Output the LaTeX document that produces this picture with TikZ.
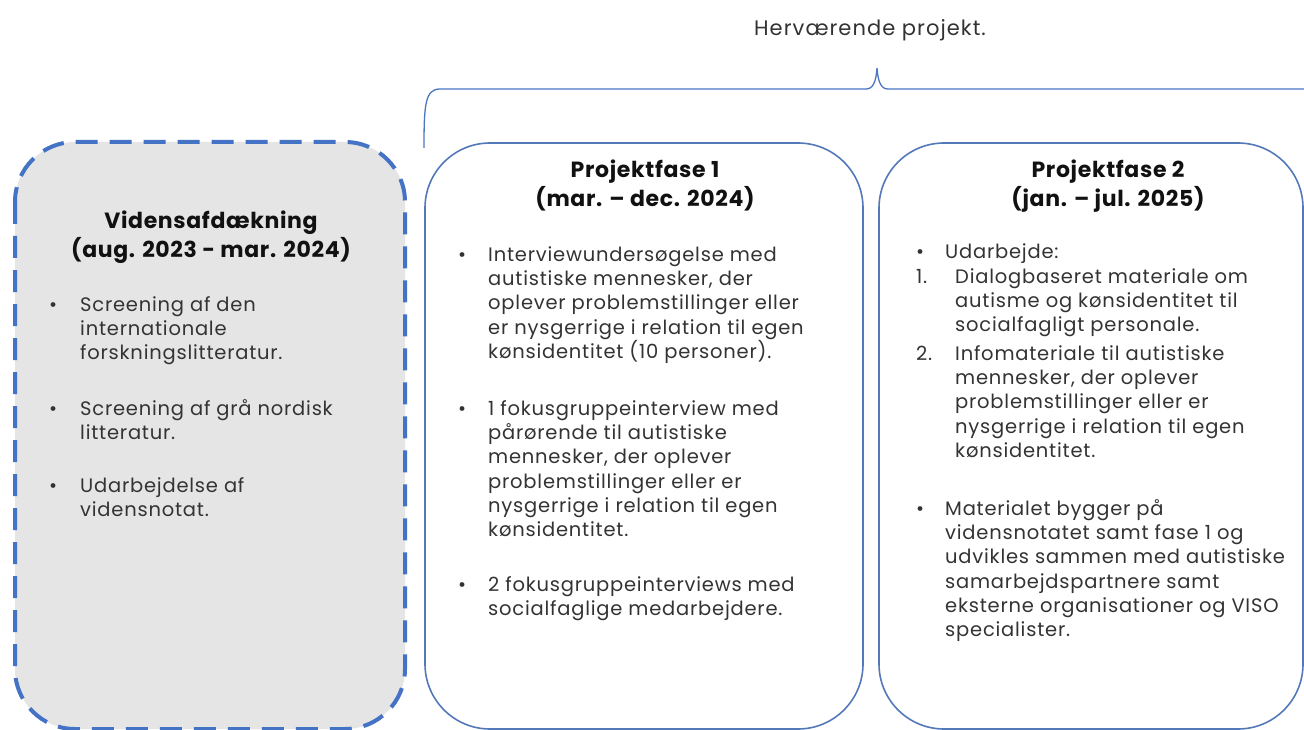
\documentclass[tikz,border=0pt]{standalone}
\usepackage{fontspec}
\setmainfont{Poppins}
\newfontfamily\bodyfam[LetterSpace=4]{Poppins}
\newfontfamily\titlefam[LetterSpace=3]{Poppins}
\newfontfamily\headfam[LetterSpace=5]{Poppins}
\definecolor{dashblue}{HTML}{4472C4}
\definecolor{boxblue}{HTML}{5479B8}
\definecolor{bracecol}{HTML}{4A76C2}
\definecolor{boxgray}{HTML}{E5E5E5}
\definecolor{bodytext}{HTML}{333333}
\definecolor{titletext}{HTML}{111111}
\begin{document}
\begin{tikzpicture}[x=1pt,y=-1pt,
  bodyfont/.style={font=\bodyfam\fontsize{19.5}{24.3}\selectfont, text=bodytext, inner sep=0pt, anchor=north west, align=left},
  bulletfont/.style={font=\bodyfam\fontsize{19.5}{24.3}\selectfont, text=bodytext, inner sep=0pt, anchor=north west},
  titlefont/.style={font=\titlefam\fontsize{22}{26}\selectfont\bfseries, text=titletext, inner sep=0pt, anchor=north, align=center},
  phasebox/.style={draw=boxblue, line width=1.6pt, rounded corners=65pt},
  knowbox/.style={draw=dashblue, fill=boxgray, line width=4pt, dash pattern=on 22pt off 12pt, rounded corners=60pt},
  bracestyle/.style={draw=bracecol, line width=1.3pt}
]
\useasboundingbox (0,0) rectangle (1304,730);
\clip (0,0) rectangle (1304,730);
\fill[white] (0,0) rectangle (1304,730);

% title
\node[font=\headfam\fontsize{21}{24}\selectfont, text=bodytext, inner sep=0pt] (proj) at (870,30) {Herværende projekt.};

% brace
\coordinate (bl) at (424,148);
\coordinate (bt) at (877,68);
\coordinate (br) at (1310,89);
\draw[bracestyle] (bl) .. controls (424,105) and (425,89) .. (440,89) -- (866,89)
  .. controls (873,89) and (876,82) .. (bt) .. controls (878,82) and (881,89) .. (888,89) -- (br);

% boxes
\draw[knowbox] (15,142) rectangle (405,729);
\draw[phasebox] (425,143) rectangle (863,729);
\draw[phasebox] (879,143) rectangle (1303,729);

% left box
\node[titlefont] (t0) at (211,210) {\strut Vidensafdækning\\(aug. 2023 - mar. 2024)};
\node[bulletfont] (b01) at (49,294) {\strut •};
\node[bodyfont] (l01) at (80,294) {\strut Screening af den\\internationale\\forskningslitteratur.};
\node[bulletfont] (b02) at (49,398) {\strut •};
\node[bodyfont] (l02) at (80,398) {\strut Screening af grå nordisk\\litteratur.};
\node[bulletfont] (b03) at (49,475) {\strut •};
\node[bodyfont] (l03) at (80,475) {\strut Udarbejdelse af\\vidensnotat.};

% box 2
\node[titlefont] (t1) at (645,159) {\strut Projektfase 1\\(mar. – dec. 2024)};
\node[bulletfont] (b11) at (458,244) {\strut •};
\node[bodyfont] (l11) at (488,244) {\strut Interviewundersøgelse med\\autistiske mennesker, der\\oplever problemstillinger eller\\er nysgerrige i relation til egen\\kønsidentitet (10 personer).};
\node[bulletfont] (b12) at (458,398) {\strut •};
\node[bodyfont] (l12) at (488,398) {\strut 1 fokusgruppeinterview med\\pårørende til autistiske\\mennesker, der oplever\\problemstillinger eller er\\nysgerrige i relation til egen\\kønsidentitet.};
\node[bulletfont] (b13) at (458,574) {\strut •};
\node[bodyfont] (l13) at (488,574) {\strut 2 fokusgruppeinterviews med\\socialfaglige medarbejdere.};

% box 3
\node[titlefont] (t2) at (1108,159) {\strut Projektfase 2\\(jan. – jul. 2025)};
\node[bulletfont] (b21) at (916,241) {\strut •};
\node[bodyfont] (l21) at (945,241) {\strut Udarbejde:};
\node[bulletfont] (n21) at (916,266) {\strut 1.};
\node[bodyfont] (l22) at (955,266) {\strut Dialogbaseret materiale om\\autisme og kønsidentitet til\\socialfagligt personale.};
\node[bulletfont] (n22) at (916,343) {\strut 2.};
\node[bodyfont] (l23) at (955,343) {\strut Infomateriale til autistiske\\mennesker, der oplever\\problemstillinger eller er\\nysgerrige i relation til egen\\kønsidentitet.};
\node[bulletfont] (b22) at (916,498) {\strut •};
\node[bodyfont] (l24) at (945,498) {\strut Materialet bygger på\\vidensnotatet samt fase 1 og\\udvikles sammen med autistiske\\samarbejdspartnere samt\\eksterne organisationer og VISO\\specialister.};
\end{tikzpicture}
\end{document}
